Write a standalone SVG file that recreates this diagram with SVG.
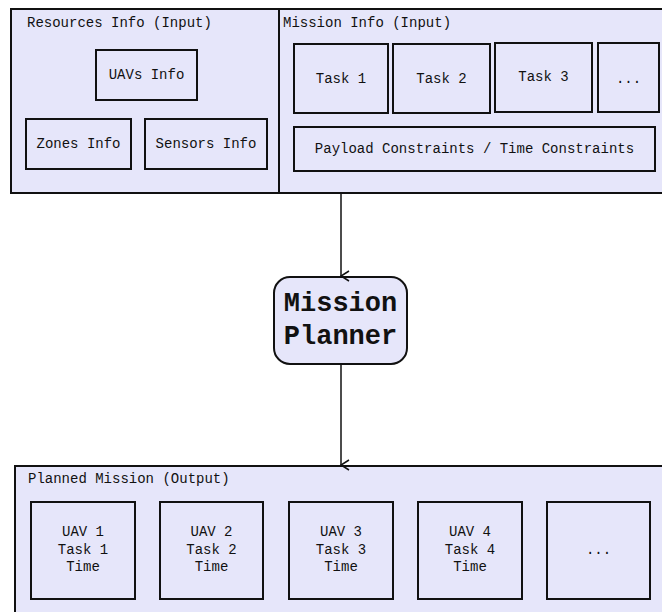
<svg xmlns="http://www.w3.org/2000/svg" width="662" height="612" viewBox="0 0 662 612">
  <style>
    .panel { fill: #e6e6fa; stroke: #111; stroke-width: 2; }
    .box { fill: #e6e6fa; stroke: #111; stroke-width: 2; }
    .title { font-family: "Liberation Mono", "Courier New", monospace; font-size: 14px; fill: #111; }
    .label { font-family: "Liberation Mono", "Courier New", monospace; font-size: 14px; fill: #111; text-anchor: middle; }
    .planner { font-family: "Liberation Mono", "Courier New", monospace; font-size: 27px; font-weight: bold; fill: #111; text-anchor: middle; }
    .edge { stroke: #111; stroke-width: 1.5; fill: none; }
  </style>
  <defs>
    <marker id="arrow" viewBox="0 0 12 12" refX="6" refY="11" markerWidth="12" markerHeight="12" markerUnits="userSpaceOnUse" orient="auto-start-reverse">
      <path d="M1,3 L6,11 L11,3" fill="none" stroke="#111" stroke-width="1.5"/>
    </marker>
  </defs>

  <rect width="662" height="612" fill="#ffffff"/>

  <!-- Resources input panel -->
  <g id="resources">
    <rect class="panel" x="11" y="9" width="268" height="184"/>
    <text class="title" x="27" y="27">Resources Info (Input)</text>
    <g id="uavs-info">
      <rect class="box" x="96" y="50" width="101" height="50"/>
      <text class="label" x="146.5" y="79">UAVs Info</text>
    </g>
    <g id="zones-info">
      <rect class="box" x="26" y="119" width="105" height="50"/>
      <text class="label" x="78.5" y="148">Zones Info</text>
    </g>
    <g id="sensors-info">
      <rect class="box" x="145" y="119" width="122" height="50"/>
      <text class="label" x="206" y="148">Sensors Info</text>
    </g>
  </g>

  <!-- Mission input panel -->
  <g id="mission">
    <rect class="panel" x="279" y="9" width="390" height="184"/>
    <text class="title" x="283" y="27">Mission Info (Input)</text>
    <g id="task-1">
      <rect class="box" x="294" y="44" width="94" height="69"/>
      <text class="label" x="341" y="83">Task 1</text>
    </g>
    <g id="task-2">
      <rect class="box" x="393" y="44" width="97" height="69"/>
      <text class="label" x="441.5" y="83">Task 2</text>
    </g>
    <g id="task-3">
      <rect class="box" x="495" y="43" width="97" height="69"/>
      <text class="label" x="543.5" y="81">Task 3</text>
    </g>
    <g id="task-more">
      <rect class="box" x="598" y="43" width="61" height="69"/>
      <text class="label" x="628.5" y="83">...</text>
    </g>
    <g id="constraints">
      <rect class="box" x="294" y="127" width="361" height="44"/>
      <text class="label" x="474.5" y="153">Payload Constraints / Time Constraints</text>
    </g>
  </g>

  <!-- Planner -->
  <g id="planner">
    <rect class="box" x="274" y="277" width="133" height="87" rx="16" ry="16"/>
    <text class="planner" x="340.5" y="311">Mission</text>
    <text class="planner" x="340.5" y="344">Planner</text>
  </g>

  <!-- Output panel -->
  <g id="output">
    <rect class="panel" x="15" y="466" width="660" height="160"/>
    <text class="title" x="28" y="483">Planned Mission (Output)</text>
    <g id="uav-1">
      <rect class="box" x="31" y="502" width="104" height="97"/>
      <text class="label" x="83" y="536">UAV 1</text>
      <text class="label" x="83" y="553.5">Task 1</text>
      <text class="label" x="83" y="571">Time</text>
    </g>
    <g id="uav-2">
      <rect class="box" x="160" y="502" width="103" height="97"/>
      <text class="label" x="211.5" y="536">UAV 2</text>
      <text class="label" x="211.5" y="553.5">Task 2</text>
      <text class="label" x="211.5" y="571">Time</text>
    </g>
    <g id="uav-3">
      <rect class="box" x="289" y="502" width="104" height="97"/>
      <text class="label" x="341" y="536">UAV 3</text>
      <text class="label" x="341" y="553.5">Task 3</text>
      <text class="label" x="341" y="571">Time</text>
    </g>
    <g id="uav-4">
      <rect class="box" x="418" y="502" width="104" height="97"/>
      <text class="label" x="470" y="536">UAV 4</text>
      <text class="label" x="470" y="553.5">Task 4</text>
      <text class="label" x="470" y="571">Time</text>
    </g>
    <g id="uav-more">
      <rect class="box" x="547" y="502" width="103" height="97"/>
      <text class="label" x="598.5" y="553.5">...</text>
    </g>
  </g>

  <!-- Connectors -->
  <g id="connectors">
    <line class="edge" x1="341" y1="194" x2="341" y2="276" marker-end="url(#arrow)"/>
    <line class="edge" x1="341" y1="365" x2="341" y2="465" marker-end="url(#arrow)"/>
  </g>
</svg>
